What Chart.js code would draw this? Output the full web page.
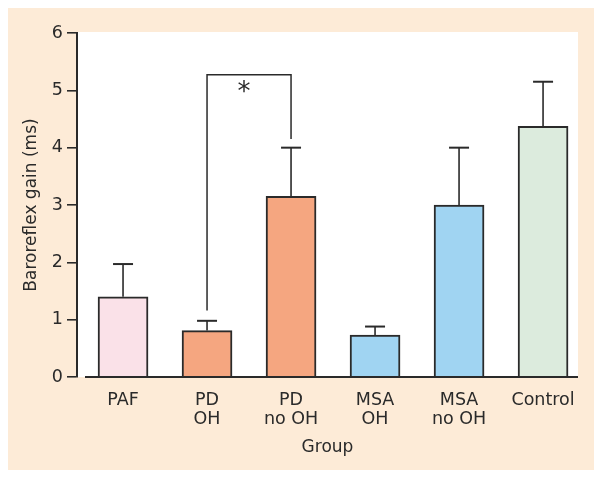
<!DOCTYPE html>
<html lang="en">
  <head>
    <meta charset="UTF-8" />
    <title>Baroreflex gain</title>
    <script src="https://cdn.jsdelivr.net/npm/chart.js"></script>
    <style>
      body { margin: 0; background: #fff; }
    </style>
  </head>
  <body>
    <canvas id="myChart" width="600" height="478"></canvas>
    <script>
// data
const groups = [["PAF"], ["PD", "OH"], ["PD", "no OH"], ["MSA", "OH"], ["MSA", "no OH"], ["Control"]];
const gain = [1.4, 0.81, 3.15, 0.73, 3.0, 4.37];
const gainErr = [1.97, 0.98, 4.0, 0.88, 4.0, 5.15];
const barColors = ["#fae1e8", "#f5a680", "#f5a680", "#a0d4f2", "#a0d4f2", "#dcebdd"];
const yTicks = [0, 1, 2, 3, 4, 5, 6];
// significance bracket between PD OH and PD no OH
const sigPair = [1, 2];
const sigTop = 5.27;
const sigEnds = [1.16, 4.15];
const sigMark = "*";

const peach = "#fdebd7";
const ink = "#2a2a2a";

const extras = {
  id: "extras",
  beforeDraw(chart) {
    const c = chart.ctx, a = chart.chartArea;
    c.save();
    c.fillStyle = "#fff";
    c.fillRect(0, 0, chart.width, chart.height);
    c.fillStyle = peach;
    c.fillRect(8, 8, 586, 462);
    c.fillStyle = "#fff";
    c.fillRect(a.left, a.top - 1, a.right - a.left, a.bottom - a.top + 1);
    c.restore();
  },
  afterDatasetsDraw(chart) {
    const c = chart.ctx, a = chart.chartArea;
    const y = chart.scales.y;
    const bars = chart.getDatasetMeta(0).data;
    c.save();
    c.strokeStyle = ink;
    // x axis line, starts a little right of the y axis
    c.lineWidth = 2;
    c.beginPath();
    c.moveTo(a.left + 8, a.bottom);
    c.lineTo(a.right, a.bottom);
    c.stroke();
    // error bars
    bars.forEach((b, i) => {
      const top = y.getPixelForValue(gainErr[i]);
      c.lineWidth = 1.6;
      c.beginPath();
      c.moveTo(b.x, b.y);
      c.lineTo(b.x, top);
      c.stroke();
      c.lineWidth = 2;
      c.beginPath();
      c.moveTo(b.x - 10, top);
      c.lineTo(b.x + 10, top);
      c.stroke();
    });
    // bracket
    const xl = bars[sigPair[0]].x, xr = bars[sigPair[1]].x;
    const yt = y.getPixelForValue(sigTop);
    c.lineWidth = 1.5;
    c.beginPath();
    c.moveTo(xl, y.getPixelForValue(sigEnds[0]));
    c.lineTo(xl, yt);
    c.lineTo(xr, yt);
    c.lineTo(xr, y.getPixelForValue(sigEnds[1]));
    c.stroke();
    c.fillStyle = ink;
    c.font = "26px 'DejaVu Sans'";
    c.textAlign = "center";
    c.textBaseline = "alphabetic";
    c.fillText(sigMark, (xl + xr) / 2 - 5, yt + 25);
    c.restore();
  }
};

const ctx = document.getElementById("myChart");
new Chart(ctx, {
  type: "bar",
  data: {
    datasets: [{
      data: gain.map((v, i) => ({ x: i, y: v })),
      backgroundColor: barColors,
      borderColor: ink,
      borderWidth: 2,
      barThickness: 50
    }]
  },
  plugins: [extras],
  options: {
    responsive: false,
    animation: false,
    layout: { padding: { top: 33, right: 22, left: 0, bottom: 0 } },
    plugins: { legend: { display: false }, tooltip: { enabled: false } },
    scales: {
      x: {
        type: "linear",
        offset: false,
        min: -0.548,
        max: 5.416,
        grid: { display: false, drawTicks: false, offset: false },
        border: { display: false },
        afterBuildTicks: s => { s.ticks = groups.map((g, i) => ({ value: i })); },
        afterFit: s => { s.height = 101; },
        ticks: {
          autoSkip: false,
          maxRotation: 0,
          padding: 14,
          color: ink,
          font: { family: "DejaVu Sans", size: 17.5, lineHeight: 1.1 },
          callback: v => groups[v]
        },
        title: {
          display: true,
          text: "Group",
          color: ink,
          padding: { top: 0, bottom: 20 },
          font: { family: "DejaVu Sans", size: 17, lineHeight: 1.2 }
        }
      },
      y: {
        min: 0,
        max: 6,
        afterBuildTicks: s => { s.ticks = yTicks.map(v => ({ value: v })); },
        afterFit: s => { s.width = 77; },
        grid: { drawOnChartArea: false, drawTicks: true, tickLength: 10, color: ink, lineWidth: 1.6 },
        border: { display: true, color: ink, width: 2 },
        ticks: {
          padding: 4,
          color: ink,
          font: { family: "DejaVu Sans", size: 17.5 }
        },
        title: {
          display: true,
          text: "Baroreflex gain (ms)",
          color: ink,
          padding: { top: 21, bottom: 0 },
          font: { family: "DejaVu Sans", size: 17, lineHeight: 1.2 }
        }
      }
    }
  }
});
    </script>
  </body>
</html>
